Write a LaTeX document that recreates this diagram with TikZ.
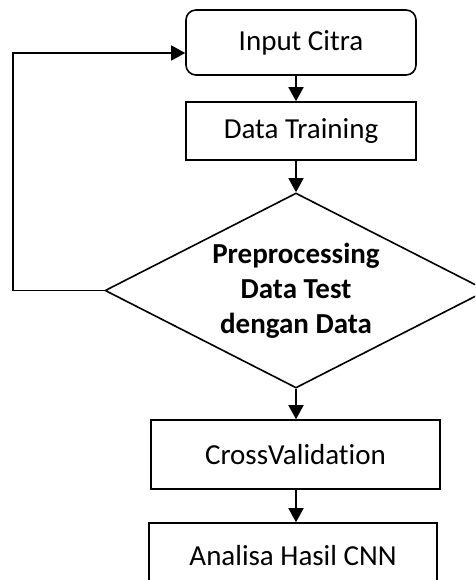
\documentclass[tikz,border=0pt]{standalone}
\usepackage{fontspec}
\setmainfont{Carlito}[Ligatures=NoCommon]
\usetikzlibrary{shapes.geometric,arrows.meta}

\begin{document}
\begin{tikzpicture}[x=1pt, y=-1pt, line width=1.6pt,
    box/.style={draw, rectangle, inner sep=0pt, font=\fontsize{29}{35}\selectfont},
    choice/.style={draw, diamond, inner sep=0pt, shape aspect=1.96, align=center, font=\fontsize{29}{35}\selectfont\bfseries},
    arr/.style={-{Triangle[length=14pt, width=15pt]}}]

    \clip (0, 0) rectangle (475, 580);

    \node[box, rounded corners=10pt, minimum width=230pt, minimum height=65pt] (cit) at (301, 42.5) {Input Citra};
    \node[box, minimum width=230pt, minimum height=58pt] (train) at (301, 131) {Data Training};

    \node[choice, minimum width=382pt, minimum height=195pt] (prep) at (296, 290.5) {Preprocessing\\Data Test\\dengan Data};

    \node[box, minimum width=289pt, minimum height=69pt] (cv) at (295.5, 454.5) {CrossValidation};
    \node[box, minimum width=288pt, minimum height=65pt] (hasil) at (293, 555.5) {Analisa Hasil CNN};

    \coordinate (back) at (13, 53);

    \path[draw, arr] (cit.south -| prep.north) to (train.north -| prep.north);
    \path[draw, arr] (train.south -| prep.north) to (prep.north);
    \path[draw, arr] (prep.south) to (cv.north -| prep.south);
    \path[draw, arr] (cv.south -| prep.south) to (hasil.north -| prep.south);
    \path[draw, arr] (prep.west) -| (back) -- (back -| cit.west);

\end{tikzpicture}
\end{document}
